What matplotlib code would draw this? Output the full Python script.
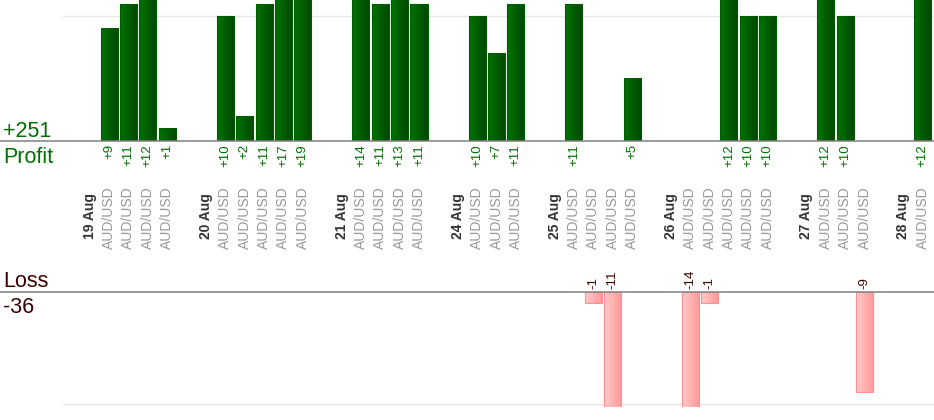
import numpy as np
import matplotlib
matplotlib.use("Agg")
import matplotlib.pyplot as plt
from matplotlib.colors import LinearSegmentedColormap
from matplotlib.patches import Rectangle
from matplotlib.transforms import blended_transform_factory

plt.rcParams['font.family'] = ['Liberation Sans', 'DejaVu Sans']

# trades per day, profit / loss in pips
days = ["19 Aug", "20 Aug", "21 Aug", "24 Aug", "25 Aug", "26 Aug", "27 Aug", "28 Aug"]
trades_per_day = [4, 5, 4, 3, 4, 5, 3, 1]
pair = "AUD/USD"
pnl = [9, 11, 12, 1,
       10, 2, 11, 17, 19,
       14, 11, 13, 11,
       10, 7, 11,
       11, -1, -11, 5,
       -14, -1, 12, 10, 10,
       12, 10, -9,
       12]

W, H = 934, 420
SLOT0, SLOT_W = 89.7, 19.37   # pixel centre of first slot, slot width

# slot positions: day label, its trades, then one empty slot
day_pos = []
trade_pos = []
pos = 0
for n in trades_per_day:
    day_pos.append(pos)
    trade_pos.extend(range(pos + 1, pos + 1 + n))
    pos += n + 2

total_profit = sum(v for v in pnl if v > 0)
total_loss = sum(v for v in pnl if v < 0)

fig = plt.figure(figsize=(W / 100, H / 100), dpi=100)
ax_top = fig.add_axes([0, 1 - 141 / H, 1, 141 / H])
ax_bot = fig.add_axes([0, 1 - 407 / H, 1, (407 - 292) / H])

xlim = (-SLOT0 / SLOT_W, (W - SLOT0) / SLOT_W)
grid_start = 63 / W

green_cmap = LinearSegmentedColormap.from_list("g", ["#007400", "#004600"])
pink_cmap = LinearSegmentedColormap.from_list("p", ["#ffcaca", "#ff9898"])
grad = np.linspace(0, 1, 64).reshape(1, -1)
bw = 0.88

for x, v in zip(trade_pos, pnl):
    if v > 0:
        ax, cmap, edge = ax_top, green_cmap, "#005c00"
    else:
        ax, cmap, edge = ax_bot, pink_cmap, "#ff9090"
    ax.imshow(grad, extent=[x - bw / 2, x + bw / 2, 0, v], aspect='auto',
              cmap=cmap, interpolation='bilinear', zorder=2)
    ax.add_patch(Rectangle((x - bw / 2, min(0, v)), bw, abs(v), fill=False,
                           edgecolor=edge, linewidth=0.8, zorder=3))

ax_top.set_xlim(*xlim)
ax_top.set_ylim(0, 141 / 12.45)
ax_top.axhline(10, xmin=grid_start, color="#e8e8e8", linewidth=1, zorder=1)
ax_top.axhline(0, color="#808080", linewidth=1.1, zorder=4, clip_on=False)
ax_top.axis('off')

ax_bot.set_xlim(*xlim)
ax_bot.set_ylim(-(407 - 292) / 11.15, 0)
ax_bot.axhline(-10, xmin=grid_start, color="#e8e8e8", linewidth=1, zorder=1)
ax_bot.axhline(0, color="#808080", linewidth=1.1, zorder=4, clip_on=False)
ax_bot.axis('off')

tr = blended_transform_factory(ax_top.transData, fig.transFigure)
def fy(px):
    return 1 - px / H

# value labels
for x, v in zip(trade_pos, pnl):
    if v > 0:
        fig.text(x, fy(144), f"+{v}", transform=tr, rotation=90, ha='center',
                 va='top', fontsize=9.5, color="#007000")
    else:
        fig.text(x, fy(289), f"{v}", transform=tr, rotation=90, ha='center',
                 va='bottom', fontsize=9.5, color="#3d0000")

# category labels
for x, d in zip(day_pos, days):
    fig.text(x, fy(216), d, transform=tr, rotation=90, ha='center',
             va='center', fontsize=10, fontweight='bold', color="#333333")
for x in trade_pos:
    fig.text(x, fy(218), pair, transform=tr, rotation=90, ha='center',
             va='center', fontsize=10, color="#999999")

# totals on the left
fig.text(3 / W, fy(137), f"+{total_profit}", fontsize=15.5, color="#007000", va='baseline')
fig.text(3 / W, fy(163), "Profit", fontsize=15.5, color="#007000", va='baseline')
fig.text(3 / W, fy(287), "Loss", fontsize=15.5, color="#3d0000", va='baseline')
fig.text(3 / W, fy(313), f"{total_loss}", fontsize=15.5, color="#3d0000", va='baseline')

fig.savefig("out.png", dpi=100)
